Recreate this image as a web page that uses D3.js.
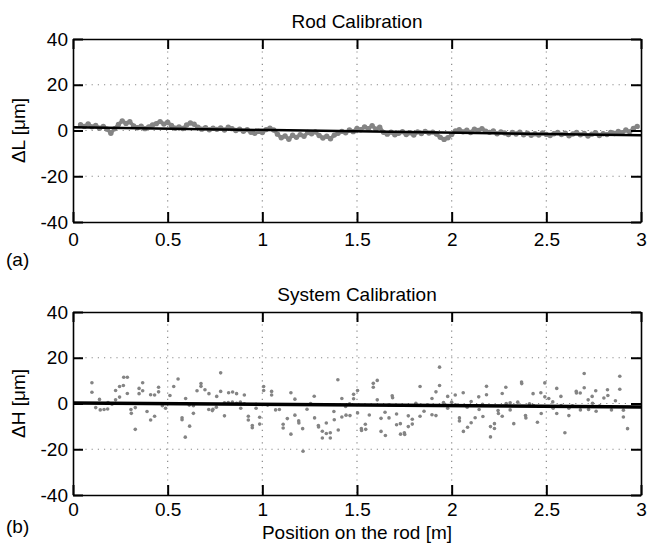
<!DOCTYPE html>
<html lang="en">
<head>
  <meta charset="UTF-8">
  <title>Rod and System Calibration</title>
  <script src="https://d3js.org/d3.v7.min.js"></script>
  <style>
    body { margin: 0; background: white; font-family: "Liberation Sans", Arial, sans-serif; }
    text { font-family: "Liberation Sans", Arial, sans-serif; fill: black; }
  </style>
</head>
<body>
  <div id="chart"></div>

  <script>
    // tick labels
    const xTicks = [0, 0.5, 1, 1.5, 2, 2.5, 3];
    const yTicks = [-40, -20, 0, 20, 40];

    // (a) rod calibration, [position m, dL um]
    const rodPoints = [
      [0.04, 2.5], [0.06, 1.8], [0.08, 2.9], [0.10, 1.6], [0.12, 2.2], [0.14, 1.0], [0.16, 1.8], [0.18, 0.6],
      [0.20, -1.2], [0.22, 0.8], [0.24, 2.6], [0.26, 4.2], [0.28, 3.1], [0.30, 3.8], [0.32, 2.0], [0.34, 1.2],
      [0.36, 1.9], [0.38, 0.8], [0.40, 1.6], [0.42, 2.4], [0.44, 3.0], [0.46, 3.9], [0.48, 2.8], [0.50, 3.6],
      [0.52, 2.2], [0.54, 1.0], [0.56, 1.6], [0.58, 0.9], [0.60, 2.4], [0.62, 3.3], [0.64, 2.7], [0.66, 1.4],
      [0.68, 0.6], [0.70, 1.2], [0.72, 0.3], [0.74, 1.0], [0.76, 0.5], [0.78, 1.1], [0.80, 0.2], [0.82, 1.4],
      [0.84, 0.8], [0.86, 0.0], [0.88, 0.6], [0.90, -0.3], [0.92, 0.4], [0.94, -0.8], [0.96, -1.2], [0.98, -0.4],
      [1.00, -0.9], [1.02, 0.4], [1.04, 1.0], [1.06, 0.2], [1.08, -1.6], [1.10, -3.2], [1.12, -2.4], [1.14, -3.8],
      [1.16, -2.1], [1.18, -3.0], [1.20, -1.8], [1.22, -2.5], [1.24, -0.9], [1.26, -1.4], [1.28, -0.6], [1.30, -2.2],
      [1.32, -3.3], [1.34, -2.5], [1.36, -3.6], [1.38, -2.0], [1.40, -1.2], [1.42, -0.4], [1.44, -1.0], [1.46, 0.2],
      [1.48, -0.5], [1.50, 0.9], [1.52, 0.3], [1.54, 1.6], [1.56, 0.8], [1.58, 2.1], [1.60, 0.6], [1.62, 1.4],
      [1.64, -0.8], [1.66, -1.6], [1.68, -0.7], [1.70, -1.9], [1.72, -1.2], [1.74, -0.5], [1.76, -1.8], [1.78, -1.0],
      [1.80, -2.0], [1.82, -0.6], [1.84, -1.3], [1.86, -0.4], [1.88, -1.1], [1.90, -0.7], [1.92, -1.5], [1.94, -3.0],
      [1.96, -3.9], [1.98, -3.2], [2.00, -1.8], [2.02, -0.2], [2.04, 0.3], [2.06, -0.6], [2.08, 0.1], [2.10, -0.9],
      [2.12, 0.6], [2.14, 0.0], [2.16, 0.8], [2.18, -0.3], [2.20, -0.8], [2.22, -0.2], [2.24, -1.4], [2.26, -0.6],
      [2.28, -1.1], [2.30, -1.8], [2.32, -0.9], [2.34, -1.5], [2.36, -0.7], [2.38, -1.9], [2.40, -1.2], [2.42, -2.1],
      [2.44, -1.4], [2.46, -2.0], [2.48, -1.1], [2.50, -1.7], [2.52, -2.2], [2.54, -1.4], [2.56, -0.9], [2.58, -1.8],
      [2.60, -1.2], [2.62, -2.3], [2.64, -1.5], [2.66, -0.8], [2.68, -1.9], [2.70, -1.3], [2.72, -2.4], [2.74, -1.6],
      [2.76, -1.0], [2.78, -2.2], [2.80, -1.4], [2.82, -1.8], [2.84, -0.9], [2.86, -1.3], [2.88, -0.4], [2.90, -1.0],
      [2.92, 0.2], [2.94, -0.6], [2.96, 0.9], [2.98, 1.8]
    ];
    const rodFit = [[0, 1.4], [3, -2.1]];

    // (b) system calibration, [position m, dH um]
    const systemPoints = [
      [0.10, 9.1], [0.10, 4.9], [0.12, -1.8], [0.14, 1.8], [0.144, -2.8], [0.164, -2.6], [0.183, -2.4], [0.185, 0.4],
      [0.206, -0.3], [0.225, 1.6], [0.225, 5.7], [0.246, 7.4], [0.246, 2.8], [0.266, 7.9], [0.268, 11.5], [0.287, 11.5],
      [0.287, 4.4], [0.306, -2.6], [0.308, -4.3], [0.329, -1.8], [0.329, -11.3], [0.349, 6.6], [0.349, 4.3], [0.368, 9.1],
      [0.368, 5.6], [0.391, -3.5], [0.41, 3.8], [0.41, -7.2], [0.431, 3.7], [0.431, -5.6], [0.452, 7.1], [0.452, 5.1],
      [0.472, -1.0], [0.489, -2.1], [0.512, 3.5], [0.532, 7.4], [0.555, 10.7], [0.595, 2.2], [0.576, -6.2], [0.576, -7.1],
      [0.593, -14.7], [0.614, -0.7], [0.616, -9.9], [0.636, -4.3], [0.636, -1.0], [0.655, 5.6], [0.676, 8.7], [0.676, 7.5],
      [0.697, 6.0], [0.718, 4.3], [0.717, -2.6], [0.736, -3.1], [0.739, -2.5], [0.759, 3.1], [0.757, -1.6], [0.78, 13.4],
      [0.78, 5.3], [0.80, 0.3], [0.80, -5.4], [0.82, 0.4], [0.822, 4.7], [0.842, 0.6], [0.843, 5.0], [0.864, 4.3],
      [0.864, 0.1], [0.884, 0.6], [0.886, -2.1], [0.905, 3.7], [0.905, -0.1], [0.926, -5.6], [0.926, -7.2], [0.947, -9.6],
      [0.947, -10.6], [0.967, -0.3], [0.967, -2.1], [0.986, -6.0], [0.986, -9.0], [1.007, 7.4], [1.007, 5.7], [1.028, -0.7],
      [1.049, 5.3], [1.049, 3.7], [1.07, -2.8], [1.09, -2.6], [1.11, -9.1], [1.11, -10.7], [1.132, -6.6], [1.151, 4.7],
      [1.151, -13.4], [1.172, 1.9], [1.172, -5.1], [1.192, -7.6], [1.193, -8.5], [1.213, -11.0], [1.215, -20.9], [1.236, -2.5],
      [1.255, 0.0], [1.274, 3.2], [1.276, -6.3], [1.296, -9.6], [1.297, -10.3], [1.317, -12.1], [1.317, -15.1], [1.338, -8.5],
      [1.338, -13.1], [1.359, -12.8], [1.359, -15.1], [1.378, -3.5], [1.38, -7.1], [1.399, 10.4], [1.401, -11.6], [1.42, 2.2],
      [1.42, -5.9], [1.44, -1.3], [1.442, -5.1], [1.461, -0.1], [1.463, -5.3], [1.482, 4.0], [1.482, 2.1], [1.503, 5.7],
      [1.503, -4.1], [1.523, -11.0], [1.524, -11.8], [1.544, -9.1], [1.546, -11.3], [1.565, -5.0], [1.586, 8.8], [1.586, 7.1],
      [1.607, 10.1], [1.607, 1.6], [1.627, -6.5], [1.627, -12.2], [1.648, -3.8], [1.65, -14.0], [1.667, -0.7], [1.669, -6.3],
      [1.686, 3.4], [1.688, 2.5], [1.709, -4.6], [1.709, -9.3], [1.729, -8.8], [1.73, -13.4], [1.75, -12.8], [1.752, -13.5],
      [1.771, -5.4], [1.771, -10.1], [1.792, -6.9], [1.792, -9.0], [1.811, 0.1], [1.833, 7.4], [1.833, -5.6], [1.854, -3.4],
      [1.875, -0.7], [1.896, 2.2], [1.896, -4.9], [1.917, 5.1], [1.917, -5.3], [1.936, 15.9], [1.936, 7.9], [1.957, 0.4],
      [1.979, 3.1], [1.979, -2.1], [2.0, 0.6], [2.019, 3.7], [2.02, -0.6], [2.041, -6.3], [2.041, -7.6], [2.061, 4.7],
      [2.062, -12.2], [2.082, -1.6], [2.084, -10.4], [2.103, 0.9], [2.103, -8.4], [2.124, -6.2], [2.143, 2.9], [2.145, -2.6],
      [2.163, -0.4], [2.165, -5.7], [2.184, 7.5], [2.184, 3.8], [2.205, -10.1], [2.205, -14.6], [2.226, -8.8], [2.226, -10.9],
      [2.245, -3.1], [2.247, -4.4], [2.267, 4.4], [2.267, -5.6], [2.286, 7.1], [2.288, 0.0], [2.309, 0.3], [2.309, -2.8],
      [2.328, -8.8], [2.349, 0.6], [2.369, 9.4], [2.37, 8.7], [2.39, -5.3], [2.392, -6.3], [2.411, -0.1], [2.43, 4.3],
      [2.432, -0.9], [2.453, -8.2], [2.471, 4.7], [2.473, -4.4], [2.492, 9.0], [2.492, 2.9], [2.513, 2.2], [2.534, 0.7],
      [2.536, -2.1], [2.555, 6.6], [2.555, -4.4], [2.577, 3.1], [2.578, -0.9], [2.598, -12.8], [2.619, -2.1], [2.619, -5.3],
      [2.638, -1.0], [2.658, 5.3], [2.659, 4.6], [2.679, 4.6], [2.68, -2.8], [2.70, 13.1], [2.70, 6.9], [2.721, 1.6],
      [2.723, -2.6], [2.742, 3.1], [2.744, 0.1], [2.761, 5.6], [2.763, -3.4], [2.782, -1.0], [2.804, 2.4], [2.823, 6.0],
      [2.825, 3.5], [2.844, -2.8], [2.865, 1.2], [2.888, 11.9], [2.888, 6.2], [2.907, -2.9], [2.907, -5.9], [2.929, -11.0]
    ];
    const systemFit = [[0, 0.2], [3, -1.5]];

    const width = 647, height = 544;
    const left = 73, right = 641;
    const gray = "#848484";
    const fontSize = 19;

    const svg = d3.select("#chart").append("svg")
      .attr("width", width)
      .attr("height", height);

    const x = d3.scaleLinear().domain([0, 3]).range([left, right]);

    function drawPanel(top, bottom, cfg) {
      const y = d3.scaleLinear().domain([-40, 40]).range([bottom, top]);
      const g = svg.append("g");

      // dotted grid
      g.selectAll(".gx").data(xTicks.slice(1, -1)).enter().append("line")
        .attr("x1", d => x(d)).attr("x2", d => x(d))
        .attr("y1", top).attr("y2", bottom)
        .attr("stroke", "#8a8a8a").attr("stroke-width", 1.2)
        .attr("stroke-dasharray", "1.2,5");
      g.selectAll(".gy").data(yTicks.slice(1, -1)).enter().append("line")
        .attr("y1", d => y(d)).attr("y2", d => y(d))
        .attr("x1", left).attr("x2", right)
        .attr("stroke", "#8a8a8a").attr("stroke-width", 1.2)
        .attr("stroke-dasharray", "1.2,5");

      // data
      if (cfg.band) {
        g.append("path")
          .datum(cfg.points)
          .attr("d", d3.line().x(d => x(d[0])).y(d => y(d[1])))
          .attr("stroke", gray)
          .attr("stroke-width", 3.5)
          .attr("stroke-linejoin", "round")
          .attr("fill", "none");
      }
      g.selectAll(".pt").data(cfg.points).enter().append("circle")
        .attr("cx", d => x(d[0]))
        .attr("cy", d => y(d[1]))
        .attr("r", cfg.r)
        .attr("fill", gray);

      g.append("path")
        .datum(cfg.fit)
        .attr("d", d3.line().x(d => x(d[0])).y(d => y(d[1])))
        .attr("stroke", "black")
        .attr("stroke-width", cfg.fitWidth)
        .attr("fill", "none");

      // axes: labels bottom/left, plain inward ticks top/right
      const bottomAxis = d3.axisBottom(x).tickValues(xTicks).tickSizeInner(-10).tickSizeOuter(0)
        .tickPadding(cfg.xPad).tickFormat(d => String(d));
      const leftAxis = d3.axisLeft(y).tickValues(yTicks).tickSizeInner(-10).tickSizeOuter(0)
        .tickPadding(5).tickFormat(d => String(d));
      const topAxis = d3.axisTop(x).tickValues(xTicks).tickSizeInner(-10).tickSizeOuter(0).tickFormat("");
      const rightAxis = d3.axisRight(y).tickValues(yTicks).tickSizeInner(-10).tickSizeOuter(0).tickFormat("");

      [
        [bottomAxis, `translate(0,${bottom})`],
        [leftAxis, `translate(${left},0)`],
        [topAxis, `translate(0,${top})`],
        [rightAxis, `translate(${right},0)`]
      ].forEach(([ax, tr]) => {
        const a = g.append("g").attr("transform", tr).call(ax);
        a.select(".domain").attr("stroke", "black").attr("stroke-width", 1.6);
        a.selectAll(".tick line").attr("stroke", "black").attr("stroke-width", 2);
        a.selectAll(".tick text").attr("font-size", fontSize).attr("fill", "black")
          .attr("font-family", "'Liberation Sans', Arial, sans-serif");
      });

      g.append("text")
        .attr("x", (left + right) / 2).attr("y", top - 11)
        .attr("text-anchor", "middle").attr("font-size", fontSize)
        .text(cfg.title);

      g.append("text")
        .attr("transform", `translate(25,${(top + bottom) / 2}) rotate(-90)`)
        .attr("text-anchor", "middle").attr("font-size", fontSize)
        .text(cfg.yLabel);

      g.append("text")
        .attr("x", 6).attr("y", bottom + cfg.tagOffset)
        .attr("font-size", fontSize)
        .text(cfg.tag);
    }

    drawPanel(39, 222, {
      points: rodPoints, fit: rodFit, r: 2.7, fitWidth: 2.5, band: true, xPad: 11,
      title: "Rod Calibration", yLabel: "\u0394L [\u03bcm]", tag: "(a)", tagOffset: 44
    });

    drawPanel(312, 495, {
      points: systemPoints, fit: systemFit, r: 1.8, fitWidth: 3.5, band: false, xPad: 8,
      title: "System Calibration", yLabel: "\u0394H [\u03bcm]", tag: "(b)", tagOffset: 38
    });

    svg.append("text")
      .attr("x", (left + right) / 2).attr("y", 539)
      .attr("text-anchor", "middle").attr("font-size", fontSize)
      .text("Position on the rod [m]");
  </script>
</body>
</html>
